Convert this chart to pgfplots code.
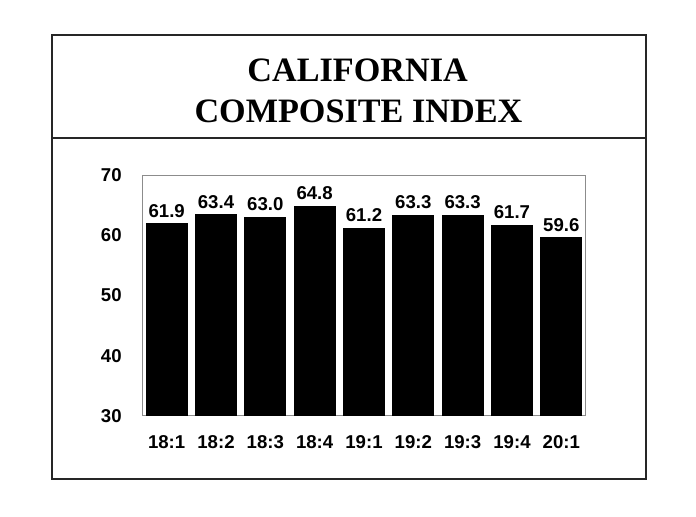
\documentclass[border=0pt]{standalone}
\usepackage{pgfplots}
\pgfplotsset{compat=1.18}
\usepackage{fontspec}
\setmainfont{Liberation Sans}
\newfontfamily\titlefont{Liberation Serif}
\begin{document}
\begin{tikzpicture}
\path[use as bounding box] (0,0) rectangle (348pt,-258.5pt);
\draw[line width=0.8pt,black!85] (26pt,-17.5pt) rectangle (323pt,-239.5pt);
\draw[line width=0.8pt,black!85] (26pt,-69pt) -- (323pt,-69pt);
\node[anchor=base,inner sep=0pt,font=\titlefont\bfseries\fontsize{17.1}{20}\selectfont] at (178.8pt,-41pt) {CALIFORNIA};
\node[anchor=base,inner sep=0pt,font=\titlefont\bfseries\fontsize{17.1}{20}\selectfont] at (179.2pt,-61.5pt) {COMPOSITE INDEX};
\begin{axis}[
  at={(71pt,-208pt)}, anchor=south west,
  width=222pt, height=120.5pt, scale only axis,
  xmin=-0.5, xmax=8.5, ymin=30, ymax=70,
  ytick={30,40,50,60,70},
  xtick={0,...,8},
  xticklabels={18:1,18:2,18:3,18:4,19:1,19:2,19:3,19:4,20:1},
  major tick length=0pt,
  axis line style={black!45, line width=0.5pt},
  /pgf/number format/assume math mode=true,
  tick label style={font=\bfseries\fontsize{9.3}{11}\selectfont},
  yticklabel style={inner sep=0pt, xshift=-10pt},
  xticklabel style={inner sep=0pt, yshift=-9.5pt},
  ybar, bar width=0.83,
  nodes near coords={\pgfmathprintnumber[fixed,zerofill,precision=1,assume math mode=true]{\pgfplotspointmeta}},
  every node near coord/.append style={font=\bfseries\fontsize{9.3}{11}\selectfont, inner sep=0pt, yshift=3pt},
]
\addplot[fill=black, draw=black] coordinates {(0,61.9) (1,63.4) (2,63.0) (3,64.8) (4,61.2) (5,63.3) (6,63.3) (7,61.7) (8,59.6)};
\end{axis}
\end{tikzpicture}
\end{document}
